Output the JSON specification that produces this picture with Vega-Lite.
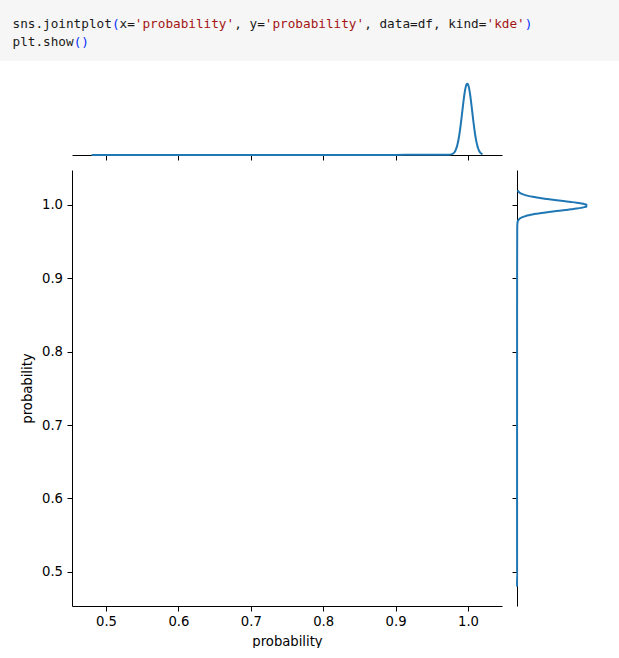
{
  "$schema": "https://vega.github.io/schema/vega-lite/v6.json",
  "padding": 0,
  "background": "white",
  "config": {
    "view": {"stroke": null},
    "axis": {
      "domainColor": "#000000", "domainWidth": 1, "tickColor": "#000000", "tickWidth": 1, "tickSize": 5,
      "labelFont": "DejaVu Sans", "labelFontSize": 13.2, "labelColor": "#000000",
      "titleFont": "DejaVu Sans", "titleFontSize": 13.2, "titleFontWeight": "normal", "titleColor": "#000000",
      "grid": false, "zindex": 1
    }
  },
  "datasets": {
    "code": [
      {"line": 1, "col": 0, "text": "sns.jointplot", "token": "plain"},
      {"line": 1, "col": 13, "text": "(", "token": "bracket"},
      {"line": 1, "col": 14, "text": "x=", "token": "plain"},
      {"line": 1, "col": 16, "text": "'probability'", "token": "string"},
      {"line": 1, "col": 29, "text": ", y=", "token": "plain"},
      {"line": 1, "col": 33, "text": "'probability'", "token": "string"},
      {"line": 1, "col": 46, "text": ", data=df, kind=", "token": "plain"},
      {"line": 1, "col": 62, "text": "'kde'", "token": "string"},
      {"line": 1, "col": 67, "text": ")", "token": "bracket"},
      {"line": 2, "col": 0, "text": "plt.show", "token": "plain"},
      {"line": 2, "col": 8, "text": "()", "token": "bracket"}
    ],
    "kde": [
      {"p": 0.48, "density": 0.05}, {"p": 0.50, "density": 0.07}, {"p": 0.55, "density": 0.06},
      {"p": 0.60, "density": 0.06}, {"p": 0.65, "density": 0.06}, {"p": 0.70, "density": 0.06},
      {"p": 0.75, "density": 0.07}, {"p": 0.80, "density": 0.07}, {"p": 0.85, "density": 0.08},
      {"p": 0.90, "density": 0.10}, {"p": 0.93, "density": 0.12}, {"p": 0.95, "density": 0.15},
      {"p": 0.965, "density": 0.18}, {"p": 0.973, "density": 0.25}, {"p": 0.977, "density": 0.5},
      {"p": 0.979, "density": 1.0}, {"p": 0.980, "density": 1.4}, {"p": 0.981, "density": 2.0},
      {"p": 0.982, "density": 2.85}, {"p": 0.983, "density": 3.95}, {"p": 0.984, "density": 5.45},
      {"p": 0.985, "density": 7.3}, {"p": 0.986, "density": 9.75}, {"p": 0.987, "density": 12.6},
      {"p": 0.988, "density": 16.1}, {"p": 0.989, "density": 20.0}, {"p": 0.990, "density": 24.4},
      {"p": 0.991, "density": 29.1}, {"p": 0.992, "density": 34.1}, {"p": 0.993, "density": 39.1},
      {"p": 0.994, "density": 43.8}, {"p": 0.995, "density": 48.2}, {"p": 0.996, "density": 51.9},
      {"p": 0.997, "density": 54.7}, {"p": 0.998, "density": 56.4}, {"p": 0.999, "density": 57.0},
      {"p": 1.000, "density": 56.4}, {"p": 1.001, "density": 54.7}, {"p": 1.002, "density": 51.9},
      {"p": 1.003, "density": 48.2}, {"p": 1.004, "density": 43.8}, {"p": 1.005, "density": 39.1},
      {"p": 1.006, "density": 34.1}, {"p": 1.007, "density": 29.1}, {"p": 1.008, "density": 24.4},
      {"p": 1.009, "density": 20.0}, {"p": 1.010, "density": 16.0}, {"p": 1.011, "density": 12.6},
      {"p": 1.012, "density": 9.7}, {"p": 1.013, "density": 7.3}, {"p": 1.014, "density": 5.4},
      {"p": 1.015, "density": 3.9}, {"p": 1.016, "density": 2.7}, {"p": 1.017, "density": 1.9},
      {"p": 1.018, "density": 1.3}, {"p": 1.019, "density": 0.86}, {"p": 1.020, "density": 0.55}
    ]
  },
  "spacing": 18,
  "vconcat": [
    {
      "width": 619,
      "height": 61,
      "view": {"fill": "#f6f6f6", "stroke": null},
      "data": {"name": "code"},
      "mark": {"type": "text", "align": "left", "baseline": "alphabetic", "font": "DejaVu Sans Mono", "fontSize": 12.7},
      "encoding": {
        "x": {"field": "col", "type": "quantitative", "scale": {"domain": [-1.635, 79.33], "nice": false, "zero": false}, "axis": null},
        "y": {"field": "line", "type": "quantitative", "scale": {"domain": [-0.5027, 2.7946], "nice": false, "zero": false, "reverse": true}, "axis": null},
        "text": {"field": "text", "type": "nominal"},
        "color": {"field": "token", "type": "nominal", "scale": {"domain": ["plain", "bracket", "string"], "range": ["#1a1a1a", "#0431fa", "#a31515"]}, "legend": null}
      }
    },
    {
      "columns": 3,
      "bounds": "flush",
      "align": "each",
      "spacing": {"row": 15, "column": 15},
      "concat": [
        {"width": 57, "height": 1, "data": {"values": []}, "mark": {"type": "point", "opacity": 0}},
        {
          "width": 430,
          "height": 75,
          "data": {"name": "kde"},
          "mark": {"type": "line", "color": "#1f77b4", "strokeWidth": 2, "interpolate": "monotone"},
          "encoding": {
            "x": {"field": "p", "type": "quantitative", "scale": {"domain": [0.453, 1.047], "nice": false, "zero": false},
                  "axis": {"values": [0.5, 0.6, 0.7, 0.8, 0.9, 1.0], "labels": false, "title": null}},
            "y": {"field": "density", "type": "quantitative", "scale": {"domain": [0, 60], "nice": false}, "axis": null}
          }
        },
        {"width": 74, "height": 1, "data": {"values": []}, "mark": {"type": "point", "opacity": 0}},
        {"width": 57, "height": 1, "data": {"values": []}, "mark": {"type": "point", "opacity": 0}},
        {
          "width": 430,
          "height": 436,
          "data": {"values": []},
          "mark": {"type": "point", "opacity": 0},
          "encoding": {
            "x": {"field": "probability", "type": "quantitative", "scale": {"domain": [0.453, 1.047], "nice": false, "zero": false},
                  "axis": {"values": [0.5, 0.6, 0.7, 0.8, 0.9, 1.0], "format": ".1f", "title": "probability", "labelPadding": 4, "titlePadding": 8}},
            "y": {"field": "probability", "type": "quantitative", "scale": {"domain": [0.4534, 1.0476], "nice": false, "zero": false},
                  "axis": {"values": [0.5, 0.6, 0.7, 0.8, 0.9, 1.0], "format": ".1f", "title": "probability", "labelPadding": 4.5, "titlePadding": 7}}
          }
        },
        {
          "width": 74,
          "height": 436,
          "data": {"name": "kde"},
          "mark": {"type": "line", "color": "#1f77b4", "strokeWidth": 2, "interpolate": "monotone", "orient": "vertical"},
          "encoding": {
            "y": {"field": "p", "type": "quantitative", "scale": {"domain": [0.4534, 1.0476], "nice": false, "zero": false},
                  "axis": {"values": [0.5, 0.6, 0.7, 0.8, 0.9, 1.0], "labels": false, "title": null}},
            "x": {"field": "density", "type": "quantitative", "scale": {"domain": [0, 60], "nice": false}, "axis": null},
            "order": {"field": "p", "type": "quantitative"}
          }
        }
      ]
    }
  ]
}
